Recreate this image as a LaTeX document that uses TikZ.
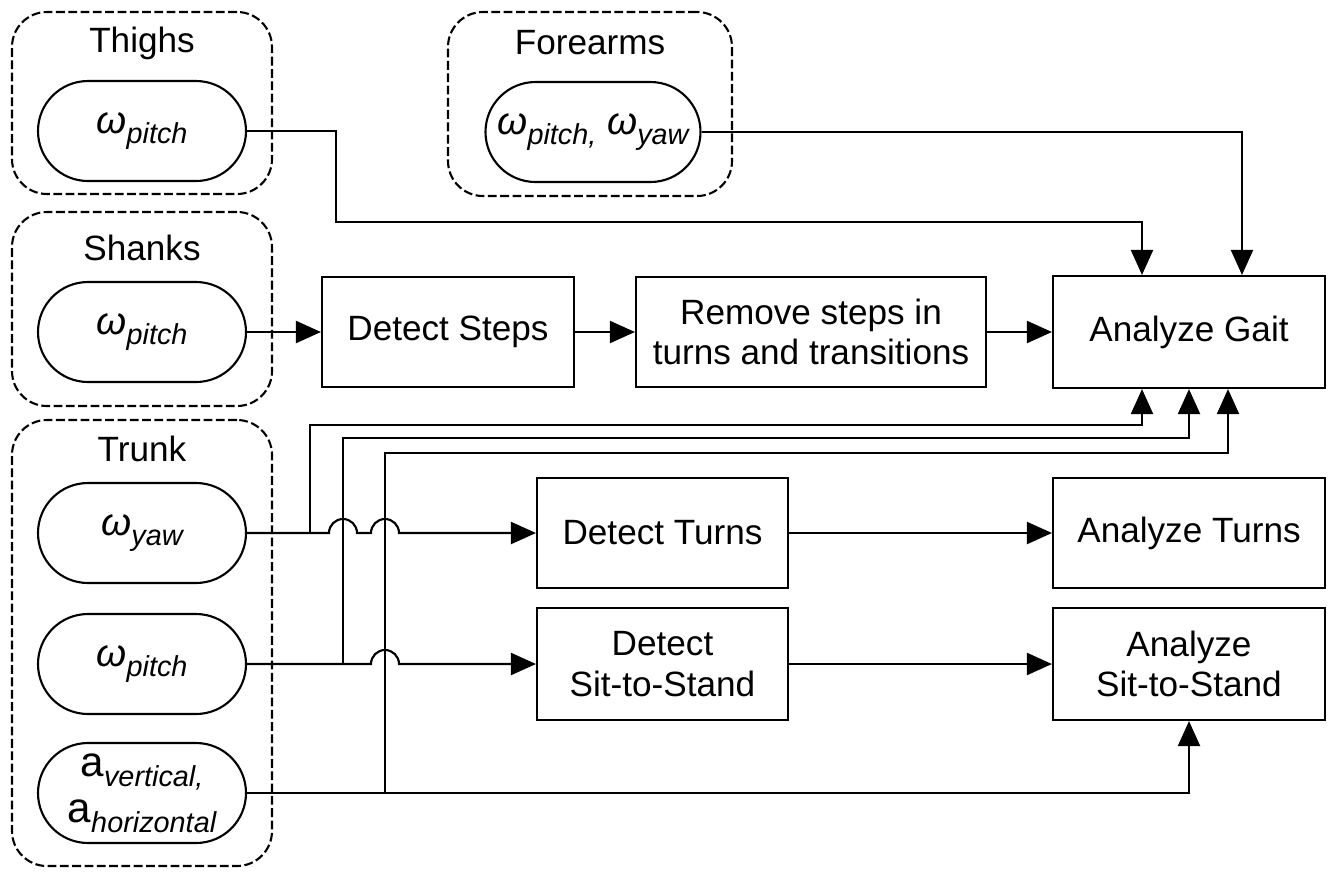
\documentclass[tikz,border=0pt]{standalone}
\usepackage{fontspec}
\setmainfont{Liberation Sans}
\usetikzlibrary{positioning,arrows.meta,calc}

\newcommand{\sig}[2]{#1\raisebox{-0.45ex}{\fontsize{8.2}{9}\selectfont\itshape #2}}

\begin{document}
\begin{tikzpicture}[font=\fontsize{10}{11.5}\selectfont, line width=0.6pt,
  group/.style={draw, dash pattern=on 2.5pt off 1pt, rounded corners=0.35cm, minimum width=2.6cm},
  title/.style={inner sep=1pt},
  sensor/.style={draw, rounded corners=0.5cm, minimum width=2.08cm, minimum height=1cm, inner sep=1pt, align=center, font=\fontsize{11}{12}\selectfont},
  block/.style={draw, minimum height=1.1cm, align=center},
  arr/.style={-{Triangle[length=0.25cm,width=0.22cm]}}]

\useasboundingbox (0,0) rectangle (13.33,-8.71);

% Sensor groups
\node[group, minimum height=1.82cm] (gthigh) at (1.42,-1.03) {};
\node[group, minimum width=2.84cm, minimum height=1.84cm] (gfore) at (5.90,-1.04) {};
\node[group, minimum height=1.94cm] (gshank) at (1.42,-3.09) {};
\node[group, minimum height=4.46cm] (gtrunk) at (1.42,-6.43) {};

\node[title] (tthigh) at (1.42,-0.43) {Thighs};
\node[title] (tfore) at (5.90,-0.43) {Forearms};
\node[title] (tshank) at (1.42,-2.48) {Shanks};
\node[title] (ttrunk) at (1.42,-4.49) {Trunk};

% Signals
\node[sensor] (thighW) at (1.42,-1.31) {\sig{\textit{ω}}{pitch}};
\node[sensor, minimum width=2.15cm] (foreW) at (5.93,-1.32) {\sig{\textit{ω}}{pitch,} \sig{\textit{ω}}{yaw}};
\node[sensor] (shankW) at (1.42,-3.32) {\sig{\textit{ω}}{pitch}};
\node[sensor] (yawW) at (1.42,-5.33) {\sig{\textit{ω}}{yaw}};
\node[sensor] (pitchW) at (1.42,-6.64) {\sig{\textit{ω}}{pitch}};
\node[sensor, font=\fontsize{12}{13}\selectfont] (accW) at (1.42,-7.93) {\sig{a}{vertical,}\\\sig{a}{horizontal}};

% Processing blocks
\node[block, minimum width=2.52cm] (steps) at (4.48,-3.32) {Detect Steps};
\node[block, minimum width=3.50cm] (remove) at (8.11,-3.32) {Remove steps in\\turns and transitions};
\node[block, minimum width=2.72cm, minimum height=1.12cm] (gait) at (11.89,-3.32) {Analyze Gait};
\node[block, minimum width=2.51cm] (turns) at (6.625,-5.33) {Detect Turns};
\node[block, minimum width=2.72cm] (aturns) at (11.89,-5.33) {Analyze Turns};
\node[block, minimum width=2.51cm, minimum height=1.12cm] (sts) at (6.625,-6.64) {Detect\\Sit-to-Stand};
\node[block, minimum width=2.72cm, minimum height=1.12cm] (asts) at (11.89,-6.64) {Analyze\\Sit-to-Stand};

% Bend points
\coordinate (tj) at (3.36,-2.22);
\coordinate (v1) at (3.10,-4.25);
\coordinate (v2) at (3.43,-4.38);
\coordinate (v3) at (3.85,-4.53);

% Connections
\draw[arr] (thighW.east) -| (tj) -| ([xshift=-0.47cm]gait.north);
\draw[arr] (foreW.east) -| ([xshift=0.53cm]gait.north);
\draw[arr] (shankW.east) -- (steps.west);
\draw[arr] (steps) -- (remove);
\draw[arr] (remove) -- (gait);

\draw[arr] (yawW.east) -- ($(v2 |- yawW.east)+(-0.14,0)$) arc[start angle=180, end angle=0, radius=0.14]
  -- ($(v3 |- yawW.east)+(-0.14,0)$) arc[start angle=180, end angle=0, radius=0.14] -- (turns.west);
\draw[arr] (pitchW.east) -- ($(v3 |- pitchW.east)+(-0.14,0)$) arc[start angle=180, end angle=0, radius=0.14] -- (sts.west);
\draw[arr] (accW.east) -| (asts.south);

\draw[arr] (v1 |- yawW.east) -- (v1) -| ([xshift=-0.47cm]gait.south);
\draw[arr] (v2 |- pitchW.east) -- (v2) -| (gait.south);
\draw[arr] (v3 |- accW.east) -- (v3) -| ([xshift=0.39cm]gait.south);

\draw[arr] (turns) -- (aturns);
\draw[arr] (sts) -- (asts);
\end{tikzpicture}
\end{document}
